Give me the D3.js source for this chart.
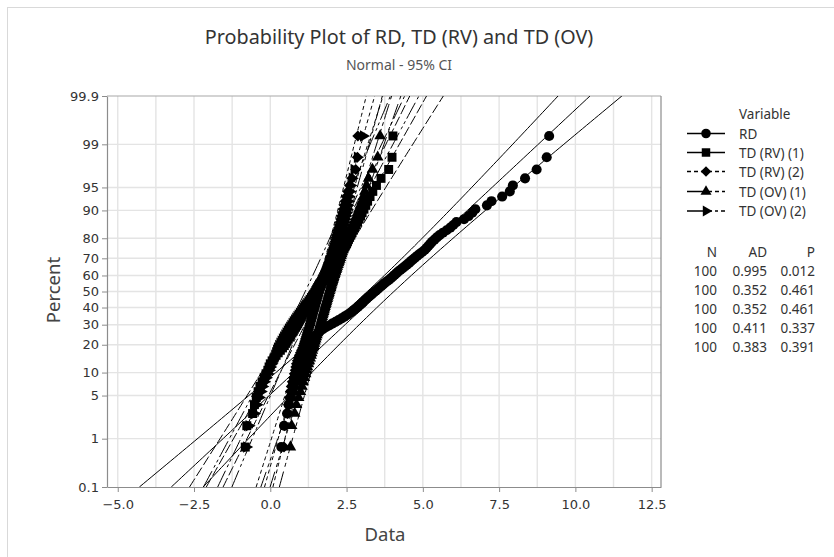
<!DOCTYPE html>
<html>
<head>
<meta charset="utf-8">
<script src="https://cdn.jsdelivr.net/npm/d3@7"></script>
<style>
  body { margin: 0; background: #fff; }
  text { font-family: "Segoe UI", "Noto Sans", "Open Sans", sans-serif; }
</style>
</head>
<body>
<svg id="chart" width="834" height="557"></svg>
<script>
// ---- data -------------------------------------------------------------
const seriesNames = ["RD", "TD (RV) (1)", "TD (RV) (2)", "TD (OV) (1)", "TD (OV) (2)"];

const rd = [0.36,0.45,0.55,0.60,0.66,0.72,0.77,0.82,0.88,0.93,
  0.98,1.03,1.08,1.12,1.16,1.20,1.23,1.26,1.29,1.32,
  1.35,1.38,1.41,1.45,1.50,1.56,1.63,1.72,1.82,1.93,
  2.03,2.14,2.24,2.34,2.43,2.52,2.60,2.68,2.75,2.82,
  2.88,2.94,3.00,3.05,3.10,3.16,3.22,3.28,3.34,3.40,
  3.46,3.52,3.58,3.64,3.70,3.76,3.83,3.90,3.96,4.02,
  4.08,4.14,4.20,4.27,4.34,4.41,4.48,4.55,4.61,4.68,
  4.75,4.82,4.90,4.98,5.06,5.12,5.18,5.24,5.30,5.38,
  5.46,5.55,5.66,5.78,5.90,6.00,6.10,6.35,6.50,6.62,
  6.72,7.10,7.25,7.60,7.85,7.95,8.35,8.73,9.06,9.14];

const tdRV1 = [-0.82,-0.77,-0.58,-0.52,-0.46,-0.40,-0.34,-0.27,-0.20,-0.14,
  -0.08,-0.04,0.00,0.06,0.12,0.19,0.26,0.33,0.40,0.46,
  0.51,0.55,0.59,0.63,0.67,0.71,0.75,0.79,0.83,0.87,
  0.90,0.93,0.96,0.99,1.02,1.05,1.08,1.11,1.14,1.17,
  1.20,1.23,1.26,1.29,1.32,1.35,1.38,1.41,1.44,1.47,
  1.50,1.53,1.56,1.59,1.62,1.65,1.68,1.72,1.76,1.80,
  1.84,1.87,1.90,1.94,1.98,2.02,2.06,2.10,2.14,2.18,
  2.22,2.26,2.30,2.34,2.38,2.42,2.46,2.50,2.53,2.56,
  2.60,2.64,2.68,2.72,2.76,2.81,2.86,2.91,2.96,3.01,
  3.07,3.13,3.19,3.27,3.36,3.48,3.63,3.88,3.99,4.02];

const tdRV2 = [0.45,0.475,0.57,0.60,0.63,0.66,0.69,0.725,0.76,0.79,
  0.82,0.84,0.86,0.89,0.92,0.955,0.99,1.025,1.06,1.09,
  1.115,1.135,1.155,1.175,1.195,1.215,1.235,1.255,1.275,1.295,
  1.31,1.325,1.34,1.355,1.37,1.385,1.40,1.415,1.43,1.445,
  1.46,1.475,1.49,1.505,1.52,1.535,1.55,1.565,1.58,1.595,
  1.61,1.625,1.64,1.655,1.67,1.685,1.70,1.72,1.74,1.76,
  1.78,1.795,1.81,1.83,1.85,1.87,1.89,1.91,1.93,1.95,
  1.97,1.99,2.01,2.03,2.05,2.07,2.09,2.11,2.125,2.14,
  2.16,2.18,2.20,2.22,2.24,2.265,2.29,2.315,2.34,2.365,
  2.395,2.425,2.455,2.495,2.54,2.60,2.675,2.80,2.855,2.87];

const tdOV1 = [0.66,0.70,0.80,0.86,0.93,0.99,1.04,1.08,1.12,1.16,
  1.19,1.22,1.25,1.28,1.31,1.34,1.36,1.38,1.40,1.43,
  1.45,1.47,1.49,1.51,1.53,1.55,1.57,1.59,1.61,1.63,
  1.645,1.66,1.675,1.69,1.705,1.72,1.735,1.75,1.765,1.78,
  1.795,1.81,1.825,1.84,1.855,1.87,1.885,1.90,1.915,1.93,
  1.945,1.96,1.975,1.99,2.005,2.02,2.035,2.05,2.065,2.08,
  2.10,2.12,2.14,2.16,2.18,2.20,2.22,2.24,2.26,2.28,
  2.30,2.32,2.34,2.36,2.38,2.40,2.43,2.46,2.49,2.52,
  2.55,2.58,2.61,2.64,2.67,2.70,2.74,2.78,2.82,2.86,
  2.90,2.95,3.00,3.05,3.10,3.16,3.22,3.35,3.52,3.60];

const tdOV2 = [-0.78,-0.70,-0.52,-0.44,-0.36,-0.30,-0.25,-0.19,-0.13,-0.08,
  -0.03,0.01,0.05,0.08,0.11,0.14,0.17,0.20,0.23,0.27,
  0.31,0.35,0.39,0.43,0.47,0.51,0.55,0.59,0.63,0.67,
  0.71,0.75,0.79,0.83,0.87,0.91,0.95,0.99,1.03,1.07,
  1.11,1.15,1.19,1.23,1.27,1.31,1.35,1.39,1.43,1.47,
  1.51,1.55,1.59,1.63,1.67,1.71,1.75,1.78,1.81,1.84,
  1.87,1.90,1.93,1.96,1.99,2.02,2.04,2.06,2.08,2.10,
  2.12,2.14,2.16,2.18,2.20,2.22,2.24,2.26,2.28,2.30,
  2.32,2.34,2.36,2.38,2.40,2.42,2.44,2.46,2.48,2.50,
  2.52,2.54,2.56,2.58,2.61,2.64,2.68,2.74,2.85,3.05];

const statN  = [100, 100, 100, 100, 100];
const statAD = ["0.995", "0.352", "0.352", "0.411", "0.383"];
const statP  = ["0.012", "0.461", "0.461", "0.337", "0.391"];

const percentTicks = [0.1, 1, 5, 10, 20, 30, 40, 50, 60, 70, 80, 90, 95, 99, 99.9];
const percentLabels = ["0.1", "1", "5", "10", "20", "30", "40", "50", "60", "70", "80", "90", "95", "99", "99.9"];
const dataTicks = [-5, -2.5, 0, 2.5, 5, 7.5, 10, 12.5];
const dataGrid = [-5, -3.75, -2.5, -1.25, 0, 1.25, 2.5, 3.75, 5, 6.25, 7.5, 8.75, 10, 11.25, 12.5];

// ---- helpers ----------------------------------------------------------
// inverse standard normal CDF (Acklam's rational approximation)
function probit(p) {
  const a = [-3.969683028665376e+01, 2.209460984245205e+02, -2.759285104469687e+02, 1.383577518672690e+02, -3.066479806614716e+01, 2.506628277459239e+00];
  const b = [-5.447609879822406e+01, 1.615858368580409e+02, -1.556989798598866e+02, 6.680131188771972e+01, -1.328068155288572e+01];
  const c = [-7.784894002430293e-03, -3.223964580411365e-01, -2.400758277161838e+00, -2.549732539343734e+00, 4.374664141464968e+00, 2.938163982698783e+00];
  const d = [7.784695709041462e-03, 3.224671290700398e-01, 2.445134137142996e+00, 3.754408661907416e+00];
  const pl = 0.02425, ph = 1 - pl;
  let q, r;
  if (p < pl) {
    q = Math.sqrt(-2 * Math.log(p));
    return (((((c[0]*q+c[1])*q+c[2])*q+c[3])*q+c[4])*q+c[5]) / ((((d[0]*q+d[1])*q+d[2])*q+d[3])*q+1);
  }
  if (p <= ph) {
    q = p - 0.5; r = q * q;
    return (((((a[0]*r+a[1])*r+a[2])*r+a[3])*r+a[4])*r+a[5])*q / (((((b[0]*r+b[1])*r+b[2])*r+b[3])*r+b[4])*r+1);
  }
  q = Math.sqrt(-2 * Math.log(1 - p));
  return -(((((c[0]*q+c[1])*q+c[2])*q+c[3])*q+c[4])*q+c[5]) / ((((d[0]*q+d[1])*q+d[2])*q+d[3])*q+1);
}

// custom marker shapes
const symDiamond = { draw(ctx, size) { const r = Math.sqrt(size / 2); ctx.moveTo(0, -r); ctx.lineTo(r, 0); ctx.lineTo(0, r); ctx.lineTo(-r, 0); ctx.closePath(); } };
const symTriUp = { draw(ctx, size) { const s = Math.sqrt(size * 4 / Math.sqrt(3)); const h = s * Math.sqrt(3) / 2; ctx.moveTo(0, -h * 2 / 3); ctx.lineTo(s / 2, h / 3); ctx.lineTo(-s / 2, h / 3); ctx.closePath(); } };
const symTriRight = { draw(ctx, size) { const s = Math.sqrt(size * 4 / Math.sqrt(3)); const h = s * Math.sqrt(3) / 2; ctx.moveTo(h * 2 / 3, 0); ctx.lineTo(-h / 3, s / 2); ctx.lineTo(-h / 3, -s / 2); ctx.closePath(); } };

const series = [
  { name: seriesNames[0], values: rd,    symbol: d3.symbolCircle, size: 80, dash: null,             legendDash: null },
  { name: seriesNames[1], values: tdRV1, symbol: d3.symbolSquare, size: 80, dash: "10,3",           legendDash: null },
  { name: seriesNames[2], values: tdRV2, symbol: symDiamond,      size: 62, dash: "4,3",            legendDash: "4,3" },
  { name: seriesNames[3], values: tdOV1, symbol: symTriUp,        size: 58, dash: "16,5,4,3,4,3",   legendDash: "16,5,4,3,4,3" },
  { name: seriesNames[4], values: tdOV2, symbol: symTriRight,     size: 58, dash: "18,4,3,3,3,3",   legendDash: "18,4,3,3,3,3" }
];

// ---- layout & scales --------------------------------------------------
const svg = d3.select("#chart");
const L = 107, R = 661, T = 96, B = 487;
const zMax = probit(0.999);
const TICK_FONT = '"DejaVu Sans", "Segoe UI", sans-serif';

const x = d3.scaleLinear().domain([-5.352, 12.806]).range([L, R]);
const y = d3.scaleLinear().domain([-zMax, zMax]).range([B, T]);

// outer graph border
svg.append("rect").attr("x", 7.5).attr("y", 7.5).attr("width", 900).attr("height", 700)
  .attr("fill", "none").attr("stroke", "#d9d9d9").attr("stroke-width", 1);

// titles
svg.append("text").attr("x", 399).attr("y", 44).attr("text-anchor", "middle")
  .attr("font-size", 19.8).attr("fill", "#333").text("Probability Plot of RD, TD (RV) and TD (OV)");
svg.append("text").attr("x", 399).attr("y", 70).attr("text-anchor", "middle")
  .attr("font-size", 14).attr("fill", "#555").text("Normal - 95% CI");

// gridlines
const grid = svg.append("g");
grid.selectAll("line.v").data(dataGrid).join("line")
  .attr("x1", d => x(d)).attr("x2", d => x(d)).attr("y1", T).attr("y2", B)
  .attr("stroke", "#e4e4e4").attr("stroke-width", 1.4);
grid.selectAll("line.h").data(percentTicks.slice(1, -1)).join("line")
  .attr("x1", L).attr("x2", R).attr("y1", d => y(probit(d / 100))).attr("y2", d => y(probit(d / 100)))
  .attr("stroke", "#e4e4e4").attr("stroke-width", 1.4);

// axes
const xAxis = svg.append("g").attr("transform", `translate(0,${B})`)
  .call(d3.axisBottom(x).tickValues(dataTicks).tickFormat(d3.format(".1f")).tickSize(5).tickSizeOuter(0));
const yAxis = svg.append("g").attr("transform", `translate(${L},0)`)
  .call(d3.axisLeft(y).tickValues(percentTicks.map(p => probit(p / 100)))
    .tickFormat((d, i) => percentLabels[i]).tickSize(5).tickSizeOuter(0));
[xAxis, yAxis].forEach(g => {
  g.select(".domain").attr("stroke", "#8c8c8c").attr("stroke-width", 1.2);
  g.selectAll(".tick line").attr("stroke", "#8c8c8c");
  g.selectAll(".tick text").attr("fill", "#333").attr("font-size", 13).style("font-family", TICK_FONT);
});
xAxis.selectAll(".tick text").attr("dy", "1.1em");

// top and right frame
svg.append("line").attr("x1", L).attr("x2", R).attr("y1", T).attr("y2", T).attr("stroke", "#a8a8a8").attr("stroke-width", 1.2);
svg.append("line").attr("x1", R).attr("x2", R).attr("y1", T).attr("y2", B).attr("stroke", "#8c8c8c").attr("stroke-width", 1.2);

// axis titles
svg.append("text").attr("transform", "translate(60,290) rotate(-90)").attr("text-anchor", "middle")
  .attr("font-size", 18.5).attr("fill", "#444").text("Percent");
svg.append("text").attr("x", 385).attr("y", 541).attr("text-anchor", "middle")
  .attr("font-size", 18.5).attr("fill", "#444").text("Data");

// ---- plot area ----------------------------------------------------------
svg.append("clipPath").attr("id", "plotClip").append("rect")
  .attr("x", L).attr("y", T).attr("width", R - L).attr("height", B - T);
const plot = svg.append("g").attr("clip-path", "url(#plotClip)");

const zGrid = d3.range(-zMax, zMax + 1e-9, zMax / 60);
const line = d3.line().x(d => x(d[0])).y(d => y(d[1]));

series.forEach(s => {
  const vals = s.values.slice().sort((a, b) => a - b);
  const n = vals.length;
  const mu = d3.mean(vals);
  const sd = d3.deviation(vals);
  // median-rank plotting positions
  s.points = vals.map((v, i) => [v, probit((i + 1 - 0.3) / (n + 0.4))]);
  // fitted normal line and 95% confidence band for the percentiles
  const hw = z => 1.96 * sd * Math.sqrt((1 + z * z / 2) / n);
  const fit = zGrid.map(z => [mu + z * sd, z]);
  const lo = zGrid.map(z => [mu + z * sd - hw(z), z]);
  const hi = zGrid.map(z => [mu + z * sd + hw(z), z]);
  [lo, fit, hi].forEach(pts => {
    plot.append("path").attr("d", line(pts)).attr("fill", "none")
      .attr("stroke", "#000").attr("stroke-width", 1)
      .attr("stroke-dasharray", s.dash);
  });
});

series.forEach(s => {
  plot.append("g").selectAll("path").data(s.points).join("path")
    .attr("transform", d => `translate(${x(d[0])},${y(d[1])})`)
    .attr("d", d3.symbol(s.symbol, s.size))
    .attr("fill", "#000");
});

// ---- legend -------------------------------------------------------------
const lg = svg.append("g");
lg.append("text").attr("x", 739).attr("y", 118.5).attr("font-size", 13.5).attr("fill", "#333").text("Variable");
series.forEach((s, i) => {
  const yy = [133.5, 152.5, 171.5, 191.5, 211][i];
  lg.append("line").attr("x1", 687).attr("x2", 725).attr("y1", yy).attr("y2", yy)
    .attr("stroke", "#000").attr("stroke-width", 1.3).attr("stroke-dasharray", s.legendDash);
  lg.append("path").attr("transform", `translate(706,${yy})`).attr("d", d3.symbol(s.symbol, s.size * 0.9)).attr("fill", "#000");
  lg.append("text").attr("x", 739).attr("y", yy + 5).attr("font-size", 13.5).attr("fill", "#333").text(s.name);
});

// goodness-of-fit table
const cols = [717, 767, 815];
["N", "AD", "P"].forEach((h, j) => {
  lg.append("text").attr("x", cols[j]).attr("y", 256.5).attr("text-anchor", "end")
    .attr("font-size", 13.5).attr("fill", "#333").text(h);
});
statN.forEach((nv, i) => {
  const yy = 276 + i * 18.9;
  [String(nv), statAD[i], statP[i]].forEach((t, j) => {
    lg.append("text").attr("x", cols[j]).attr("y", yy).attr("text-anchor", "end")
      .attr("font-size", 13.5).attr("fill", "#333").text(t);
  });
});
</script>
</body>
</html>
